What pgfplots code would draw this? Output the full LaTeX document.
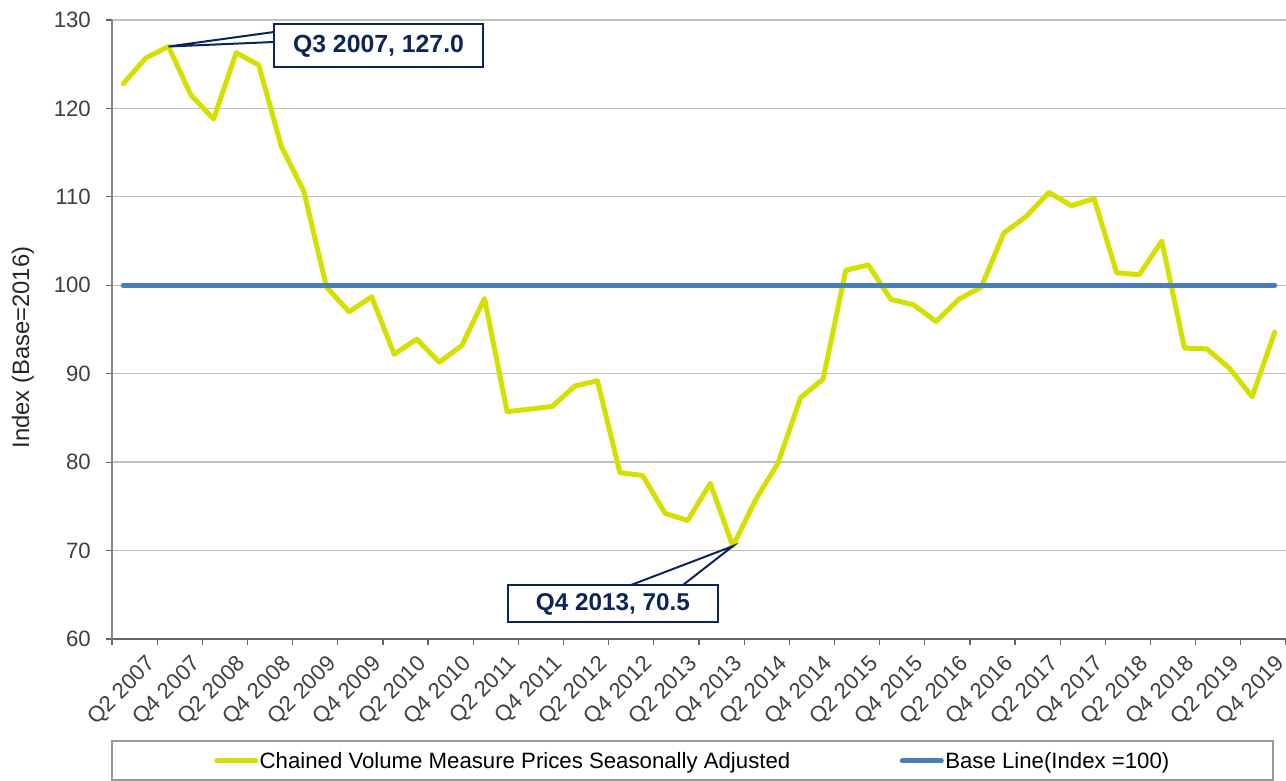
\documentclass[border=0pt]{standalone}
\usepackage{pgfplots}
\pgfplotsset{compat=1.18}
\usepackage{pgfplotstable}
\usepackage{fontspec}
\setmainfont{Liberation Sans}
\usetikzlibrary{calc}
\definecolor{serA}{HTML}{D4E000}
\definecolor{serB}{HTML}{4A7EBB}
\definecolor{navy}{HTML}{0B2559}
\definecolor{tickc}{HTML}{404040}
\definecolor{gridc}{HTML}{BFBFBF}
\definecolor{axisc}{HTML}{868686}

\pgfplotstableread{
x y
0 122.8
1 125.7
2 127.0
3 121.5
4 118.8
5 126.3
6 124.9
7 115.7
8 110.6
9 99.8
10 97.0
11 98.7
12 92.2
13 93.9
14 91.3
15 93.2
16 98.5
17 85.7
18 86.0
19 86.3
20 88.6
21 89.2
22 78.8
23 78.5
24 74.2
25 73.4
26 77.6
27 70.5
28 75.7
29 79.9
30 87.3
31 89.4
32 101.7
33 102.3
34 98.4
35 97.8
36 95.9
37 98.4
38 99.8
39 105.9
40 107.8
41 110.5
42 109.0
43 109.8
44 101.4
45 101.2
46 105.0
47 92.9
48 92.8
49 90.6
50 87.4
51 94.7
}\datatable

\pgfplotstableread{
x y
0 100
51 100
}\basetable

\begin{document}
\begin{tikzpicture}
\begin{axis}[
  name=ax,
  scale only axis, width=1174pt, height=619pt,
  xmin=-0.5, xmax=51.5, ymin=60, ymax=130,
  ytick={60,70,...,130},
  xtick={-0.5,1.5,...,51.5},
  xticklabels={Q2 2007,Q4 2007,Q2 2008,Q4 2008,Q2 2009,Q4 2009,Q2 2010,Q4 2010,Q2 2011,Q4 2011,Q2 2012,Q4 2012,Q2 2013,Q4 2013,Q2 2014,Q4 2014,Q2 2015,Q4 2015,Q2 2016,Q4 2016,Q2 2017,Q4 2017,Q2 2018,Q4 2018,Q2 2019,Q4 2019,{}},
  axis x line*=bottom, axis y line*=left,
  axis line style={draw=axisc, line width=1.3pt},
  x axis line style={draw=tickc!80},
  tick align=outside, major tick length=6pt,
  tick style={draw=tickc!80, line width=1.2pt},
  ymajorgrids, grid style={draw=gridc, line width=1.3pt},
  /pgf/number format/assume math mode=true,
  tick label style={font=\fontsize{22.2}{26}\selectfont, text=tickc},
  yticklabel style={anchor=east, inner sep=0pt, xshift=-15pt},
  xticklabel style={inner sep=0pt, xshift=40.5pt, yshift=-16pt, rotate=45, anchor=east},
  legend columns=2,
  legend image code/.code={\draw[#1, line cap=round] (0pt,0pt) -- (39pt,0pt);},
  legend style={at={(axis description cs:0.49446,0)}, anchor=center, yshift=-122pt,
    draw=none, fill=none,
    font=\fontsize{22.2}{26}\selectfont,
    inner sep=0pt,
    /tikz/every even column/.append style={column sep=108pt},
    cells={anchor=west}, nodes={inner sep=1.5pt}},
  clip=false,
]
\addplot[serA, line width=5pt, line join=round, line cap=round] table[x=x,y=y] {\datatable};
\addlegendentry{Chained Volume Measure Prices Seasonally Adjusted}
\addplot[serB, line width=5pt, line cap=round] table[x=x,y=y] {\basetable};
\addlegendentry{Base Line(Index =100)}
\coordinate (O) at (rel axis cs:0,1);
\coordinate (p1) at (axis cs:2,127.0);
\coordinate (p2) at (axis cs:27,70.5);
\end{axis}
\begin{scope}[shift={(O)}, x=1pt, y=-1pt]
  % legend frame
  \draw[gridc!80!black, line width=1.3pt] (0,721) rectangle (1161,760);
  % annotation 1
  \draw[navy, line width=2pt, line join=miter] (162,12) -- (p1) -- (162,22);
  \draw[navy, line width=2pt, fill=white] (162,4) rectangle (371,47);
  \node[text=navy, font=\bfseries\fontsize{24.8}{28}\selectfont] at (266.5,26) {Q3 2007, 127.0};
  % annotation 2
  \draw[navy, line width=2pt, line join=miter] (519,565) -- (p2) -- (571,565);
  \draw[navy, line width=2pt, fill=white] (396,565) rectangle (606,602);
  \node[text=navy, font=\bfseries\fontsize{24.3}{28}\selectfont] at (501,584) {Q4 2013, 70.5};
  % y label
  \node[rotate=90, font=\fontsize{23.8}{28}\selectfont, text=black!85] at (-89,327.5) {Index (Base=2016)};
  \pgfresetboundingbox
  \path[use as bounding box] (-112,-20) rectangle (1174,761);
\end{scope}
\end{tikzpicture}
\end{document}
